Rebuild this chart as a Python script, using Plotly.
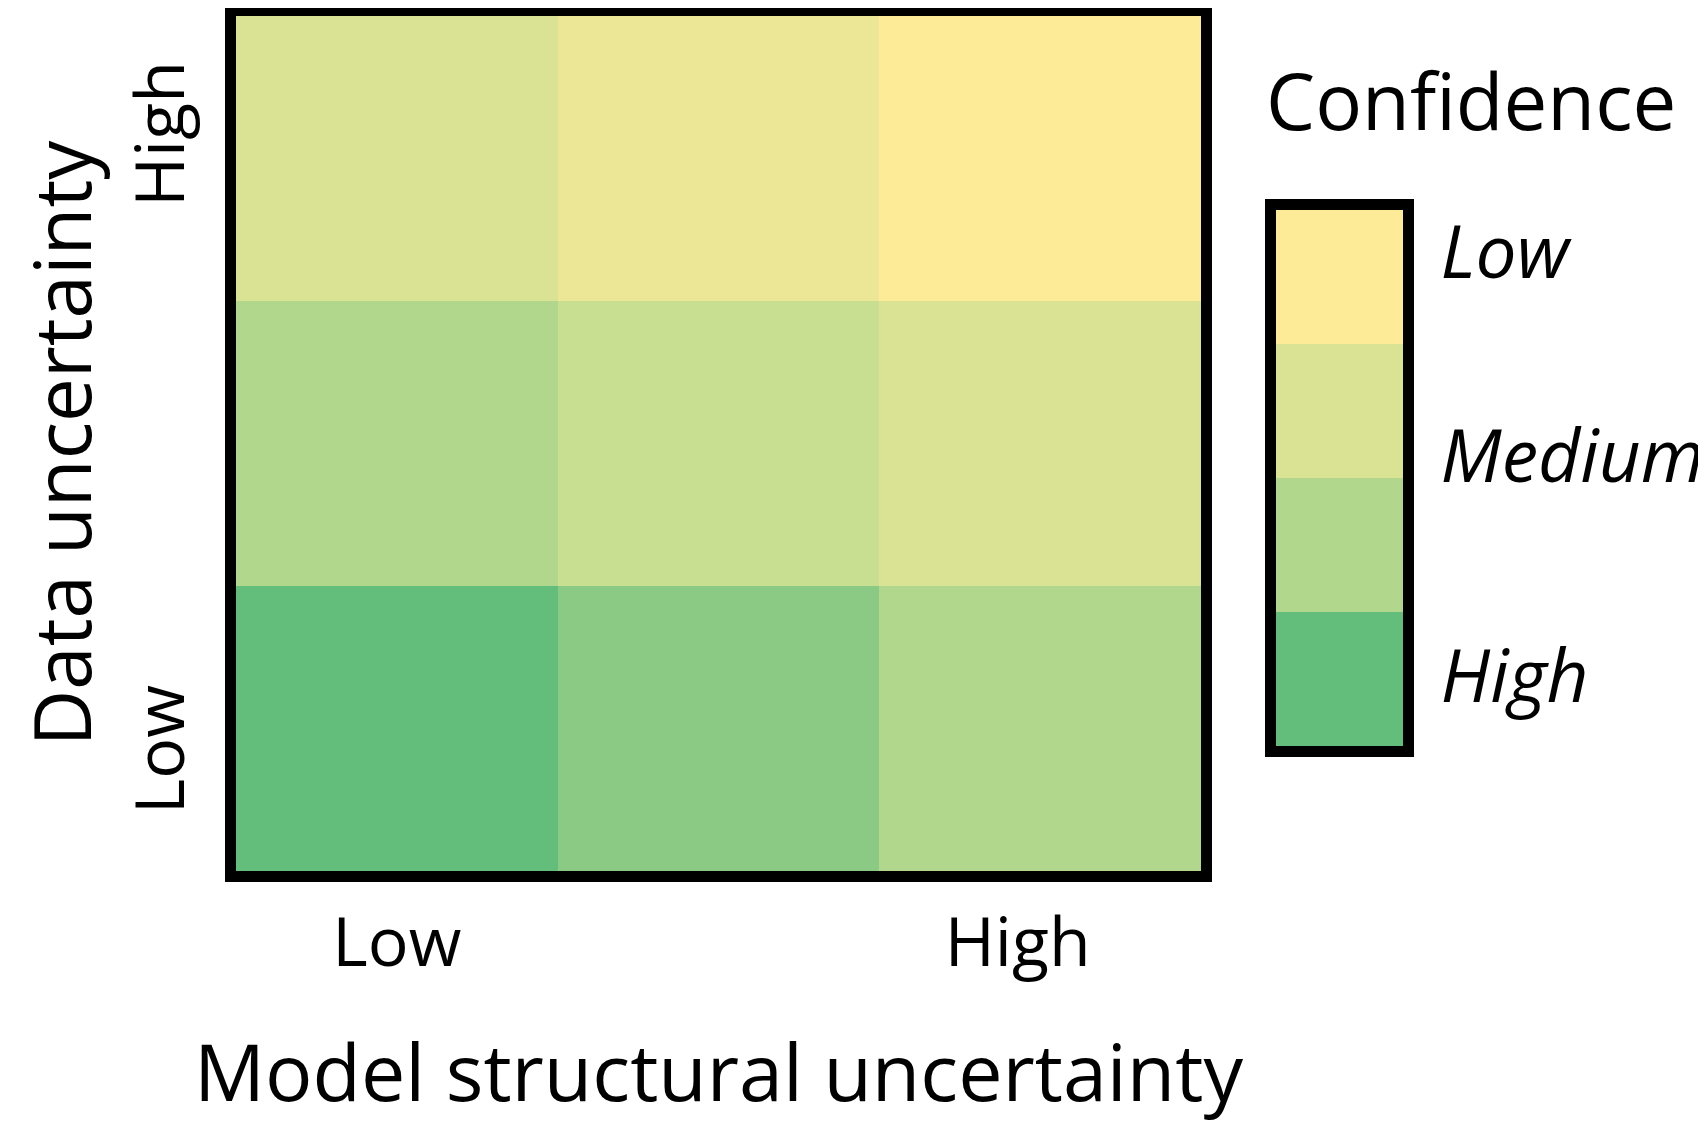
import plotly.graph_objects as go

# Data
model_unc = [0, 1, 2]          # columns: Low -> High model structural uncertainty
data_unc = [0, 1, 2]           # rows: Low -> High data uncertainty
# colour level of each cell (0 = greenest / highest confidence, 6 = yellowest / lowest)
levels = [
    [0, 1, 2],   # data uncertainty Low
    [2, 3, 4],   # data uncertainty Medium
    [4, 5, 6],   # data uncertainty High
]
x_tick_vals = [0, 1.93]
x_tick_text = ["Low", "High"]
y_tick_vals = [-0.11, 2.05]
y_tick_text = ["Low", "High"]

legend_rows = [0, 1, 2, 3]
legend_levels = [[0], [2], [4], [6]]
legend_tick_vals = [0.02, 1.66, 3.18]
legend_tick_text = ["High", "Medium", "Low"]

colorscale = [
    [0 / 6, "#63BE7B"],
    [1 / 6, "#8ACA84"],
    [2 / 6, "#B1D78C"],
    [3 / 6, "#C8DE90"],
    [4 / 6, "#D9E393"],
    [5 / 6, "#EBE797"],
    [6 / 6, "#FEEB98"],
]

FONT = "Open Sans"

fig = go.Figure()
fig.add_trace(go.Heatmap(
    x=model_unc, y=data_unc, z=levels,
    colorscale=colorscale, zmin=0, zmax=6, showscale=False,
    xgap=0, ygap=0, hoverinfo="skip",
    xaxis="x", yaxis="y",
))
fig.add_trace(go.Heatmap(
    x=[0], y=legend_rows, z=legend_levels,
    colorscale=colorscale, zmin=0, zmax=6, showscale=False,
    hoverinfo="skip",
    xaxis="x2", yaxis="y2",
))

axis_line = dict(showline=True, linewidth=11, linecolor="black", mirror=True,
                 showgrid=False, zeroline=False, automargin=False)

fig.update_layout(
    width=1706, height=1123,
    margin=dict(l=0, r=0, t=0, b=0),
    paper_bgcolor="white", plot_bgcolor="white",
    font=dict(family=FONT, color="black"),
    xaxis=dict(
        domain=[0.13365, 0.69930], range=[-0.5, 2.5],
        tickmode="array", tickvals=x_tick_vals, ticktext=x_tick_text,
        tickfont=dict(size=68, family=FONT), ticks="", ticklabelstandoff=2,
        title=dict(text="Model structural uncertainty", font=dict(size=79, family=FONT), standoff=66),
        **axis_line,
    ),
    yaxis=dict(
        domain=[0.23152, 0.99287], range=[-0.5, 2.5],
        tickmode="array", tickvals=y_tick_vals, ticktext=y_tick_text,
        tickfont=dict(size=68, family=FONT), ticks="", tickangle=-90, ticklabelstandoff=14,
        title=dict(text="Data uncertainty", font=dict(size=78, family=FONT)),
        **axis_line,
    ),
    xaxis2=dict(
        domain=[0.74326, 0.81770], range=[-0.5, 0.5], anchor="y2",
        showticklabels=False, ticks="",
        **axis_line,
    ),
    yaxis2=dict(
        domain=[0.34283, 0.82012], range=[-0.5, 3.5], anchor="x2", side="right",
        tickmode="array", tickvals=legend_tick_vals, ticktext=legend_tick_text,
        tickfont=dict(size=73, family=FONT, style="italic"), ticks="", ticklabelstandoff=12,
        **axis_line,
    ),
    annotations=[
        dict(
            text="Confidence", xref="paper", yref="paper",
            x=1256 / 1706, y=1 - 92 / 1123, xanchor="left", yanchor="middle",
            showarrow=False, font=dict(size=78, family=FONT, color="black"),
        ),
    ],
)

fig.write_html("out.html")
